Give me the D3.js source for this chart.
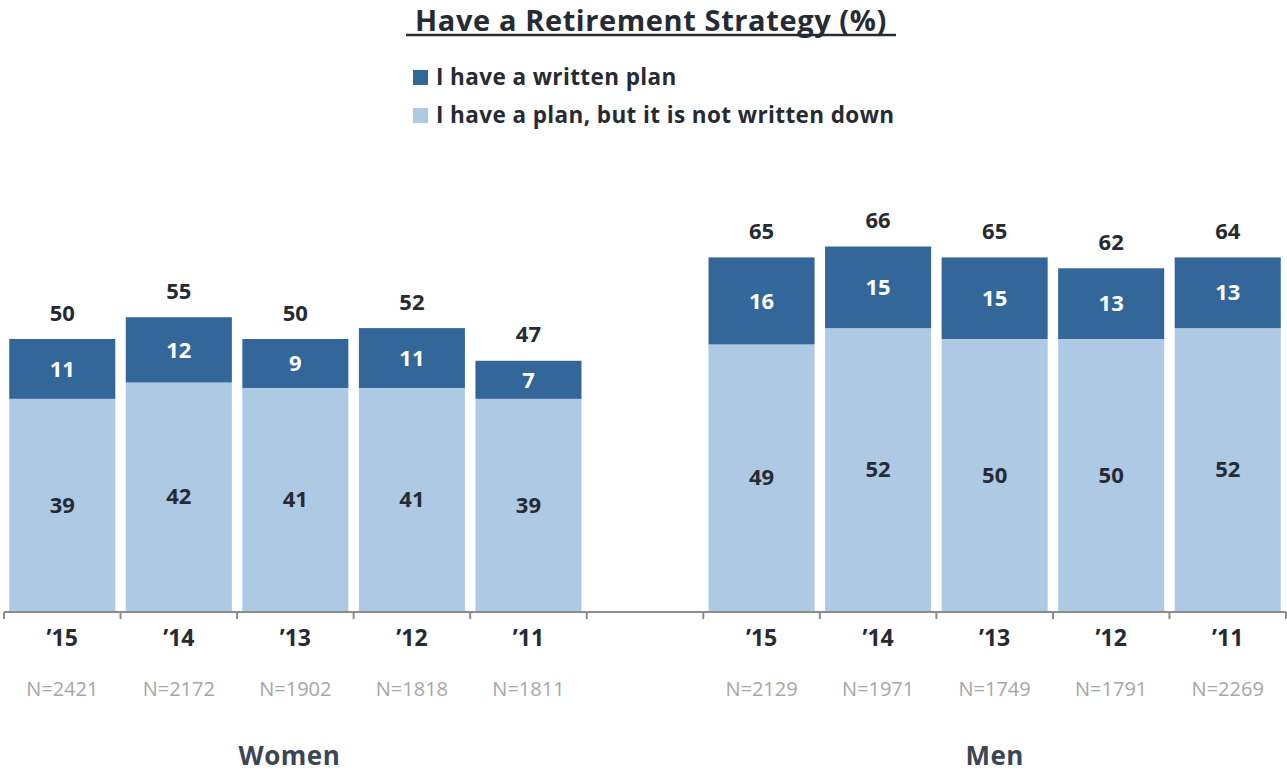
<!DOCTYPE html>
<html><head><meta charset="utf-8">
<script src="https://cdn.jsdelivr.net/npm/d3@7"></script>
<style>body{margin:0;background:#fff}svg{display:block}</style>
</head><body>
<svg id="c" width="1287" height="774"></svg>
<script>
const groups = ["Women", "Men"];
const years = ["’15", "’14", "’13", "’12", "’11"];
const womenNotWritten = [39, 42, 41, 41, 39];
const womenWritten = [11, 12, 9, 11, 7];
const womenTotal = [50, 55, 50, 52, 47];
const womenN = ["N=2421", "N=2172", "N=1902", "N=1818", "N=1811"];
const menNotWritten = [49, 52, 50, 50, 52];
const menWritten = [16, 15, 15, 13, 13];
const menTotal = [65, 66, 65, 62, 64];
const menN = ["N=2129", "N=1971", "N=1749", "N=1791", "N=2269"];
const seriesNames = ["I have a written plan", "I have a plan, but it is not written down"];

const dark = "#336699", light = "#adc9e3", textC = "#262b33";
const FONT = "'Open Sans', sans-serif";

const rows = [];
years.forEach((y,i)=>rows.push({key:"W"+i, year:y, a:womenNotWritten[i], b:womenWritten[i], t:womenTotal[i], n:womenN[i], g:0}));
rows.push({key:"gap", gap:true});
years.forEach((y,i)=>rows.push({key:"M"+i, year:y, a:menNotWritten[i], b:menWritten[i], t:menTotal[i], n:menN[i], g:1}));

const svg = d3.select("#c");
const x = d3.scaleBand().domain(rows.map(r=>r.key)).range([4, 1286]).paddingInner(0.09).paddingOuter(0.045);
const y = d3.scaleLinear().domain([0, 100]).range([611, 67]);

// title
svg.append("text").attr("x", 651).attr("y", 31).attr("text-anchor","middle")
  .attr("font-family", FONT).attr("font-weight", 700).attr("font-size", 29).attr("letter-spacing", 0.6).attr("fill", textC)
  .text("Have a Retirement Strategy (%)");
svg.append("line").attr("x1", 406).attr("x2", 896).attr("y1", 35).attr("y2", 35)
  .attr("stroke", textC).attr("stroke-width", 2.5);

// legend
const leg = svg.append("g");
[dark, light].forEach((c,i)=>{
  leg.append("rect").attr("x", 413).attr("y", 70 + i*38).attr("width", 15).attr("height", 15).attr("fill", c);
  leg.append("text").attr("x", 436).attr("y", 85 + i*38).attr("font-family", FONT).attr("font-weight", 700)
    .attr("font-size", 22.5).attr("letter-spacing", 0.4).attr("fill", textC).text(seriesNames[i]);
});

const data = rows.filter(r=>!r.gap);
const bw = x.bandwidth();

svg.selectAll(".l").data(data).join("rect").attr("x", d=>x(d.key)).attr("width", bw)
  .attr("y", d=>y(d.a)).attr("height", d=>y(0)-y(d.a)).attr("fill", light);
svg.selectAll(".d").data(data).join("rect").attr("x", d=>x(d.key)).attr("width", bw)
  .attr("y", d=>y(d.a+d.b)).attr("height", d=>y(d.a)-y(d.a+d.b)).attr("fill", dark);

const lbl = (sel)=>sel.attr("font-family", FONT).attr("font-weight", 700).attr("font-size", 22).attr("text-anchor","middle");
svg.selectAll(".tl").data(data).join("text").call(lbl).attr("fill", textC)
  .attr("x", d=>x(d.key)+bw/2).attr("y", d=>(y(d.a)+y(0))/2).attr("dy","0.35em").text(d=>d.a);
svg.selectAll(".tw").data(data).join("text").call(lbl).attr("fill", "#fff")
  .attr("x", d=>x(d.key)+bw/2).attr("y", d=>(y(d.a)+y(d.a+d.b))/2).attr("dy","0.35em").text(d=>d.b);
svg.selectAll(".tt").data(data).join("text").call(lbl).attr("fill", textC)
  .attr("x", d=>x(d.key)+bw/2).attr("y", d=>y(d.a+d.b)-26).attr("dy","0.35em").text(d=>d.t);

// axis
const axis = svg.append("g").attr("transform", "translate(0,612)");
axis.append("line").attr("x1", 4).attr("x2", 1286).attr("stroke", "#8c8c8c").attr("stroke-width", 2);
const tickXs = d3.range(rows.length+1).map(i=>4 + i*(1282/rows.length));
axis.selectAll(".tk").data(tickXs).join("line").attr("x1", d=>d).attr("x2", d=>d).attr("y1", 0).attr("y2", 7)
  .attr("stroke", "#8c8c8c").attr("stroke-width", 2);

svg.selectAll(".yr").data(data).join("text").attr("font-family", FONT).attr("font-weight", 700)
  .attr("font-size", 23).attr("text-anchor","middle").attr("fill", textC)
  .attr("x", d=>x(d.key)+bw/2).attr("y", 646).text(d=>d.year);
svg.selectAll(".nn").data(data).join("text").attr("font-family", FONT).attr("font-weight", 400)
  .attr("font-size", 20).attr("text-anchor","middle").attr("fill", "#a6a6a6")
  .attr("x", d=>x(d.key)+bw/2).attr("y", 696).text(d=>d.n);

groups.forEach((g,gi)=>{
  const ks = data.filter(d=>d.g===gi).map(d=>d.key);
  const cx = (x(ks[0]) + x(ks[ks.length-1]) + bw)/2;
  svg.append("text").attr("x", cx - (gi===0?6:0)).attr("y", 765).attr("text-anchor","middle")
    .attr("font-family", FONT).attr("font-weight", 700).attr("font-size", 26).attr("letter-spacing", 0.5)
    .attr("fill", "#3b4654").text(g);
});
</script>
</body></html>
